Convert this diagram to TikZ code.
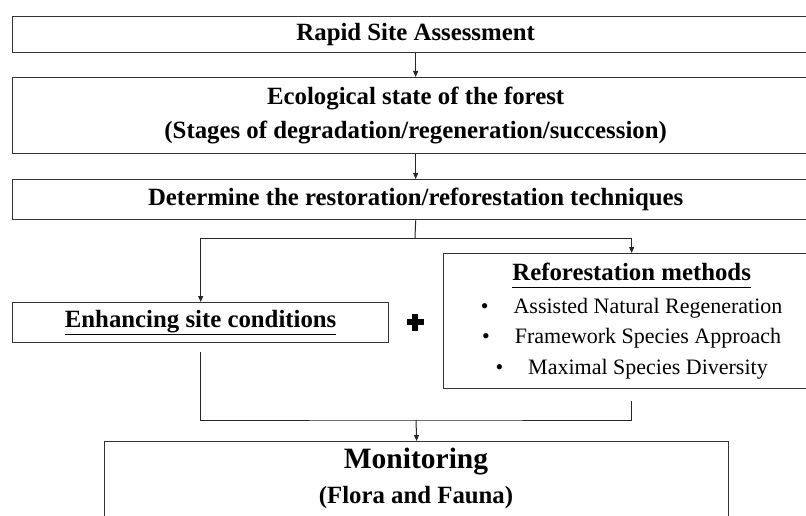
\documentclass[tikz,border=0pt]{standalone}
\usepackage{fontspec}
\setmainfont{Liberation Serif}
\usetikzlibrary{arrows.meta}
\newcommand{\uln}[1]{\underline{#1\vphantom{g}}}
\begin{document}
\begin{tikzpicture}[x=1pt,y=-1pt,
  box/.style={draw=black!80, line width=1.3pt, fill=white, inner sep=0pt, align=center,
    anchor=north west, font=\fontsize{24.8}{34}\selectfont\bfseries},
  lbl/.style={inner sep=0pt, align=center},
  arr/.style={-{Triangle[length=6pt,width=5pt]}, line width=1pt, draw=black!85},
  ln/.style={line width=1pt, draw=black!85}]
\useasboundingbox (0,0) rectangle (806,516);
\clip (0,0) rectangle (806,516);
\fill[white] (0,0) rectangle (806,516);

\node[box, minimum width=806pt, minimum height=36pt] (b1) at (12,16) {Rapid Site Assessment};
\node[box, minimum width=806pt, minimum height=76pt] (b2) at (12,77) {Ecological state of the forest\\(Stages of degradation/regeneration/succession)};
\node[box, minimum width=806pt, minimum height=40pt] (b3) at (12,179) {Determine the restoration/reforestation techniques};
\node[box, minimum width=376pt, minimum height=40pt] (enh) at (12,302) {\uln{Enhancing site conditions}};
\node[box, minimum width=376pt, minimum height=135pt, font=\fontsize{22}{30.5}\selectfont] (ref) at (443,253)
  {{\fontsize{24.8}{30}\selectfont\bfseries\uln{Reforestation methods}}\\[2pt]
   \textbullet\hspace{25pt}Assisted Natural Regeneration\\
   \textbullet\hspace{25pt}Framework Species Approach\\
   \textbullet\hspace{25pt}Maximal Species Diversity};
\node[box, minimum width=624pt, minimum height=120pt] (mon) at (104,441) {};
\node[lbl, font=\fontsize{29.5}{34}\selectfont\bfseries] (montitle) at (416,462) {Monitoring};
\node[lbl, font=\fontsize{24.8}{34}\selectfont\bfseries] (monsub) at (416,498) {(Flora and Fauna)};

% plus sign
\node[inner sep=0pt, minimum size=17pt] (plus) at (415,322) {};
\fill[black] (406.5,319.2) rectangle (423.5,324.8);
\fill[black] (412.2,313.5) rectangle (417.8,330.5);

\draw[arr] (b1.south) -- (b2.north);
\draw[arr] (b2.south) -- (b3.north);
\coordinate (split) at (415,238);
\draw[ln] (b3.south) -- (split);
\draw[arr] (split) -| (enh.north);
\draw[arr] (split) -| (ref.north);

\coordinate (el) at (200,352);
\coordinate (er) at (631,401);
\coordinate (merge) at (416,420);
\draw[ln] (el) |- (merge) -| (er);
\draw[arr] (merge) -- (mon.north);
\end{tikzpicture}
\end{document}
